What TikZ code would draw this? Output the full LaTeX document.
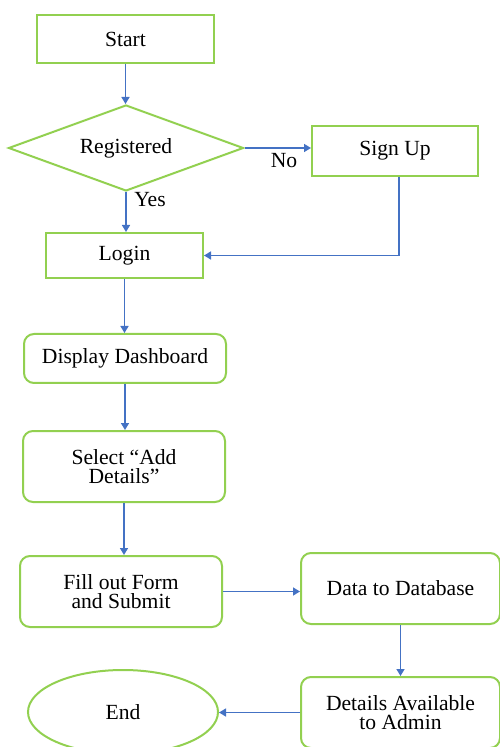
\documentclass[tikz,border=0pt]{standalone}
\usepackage{fontspec}
\setmainfont{Liberation Serif}
\usetikzlibrary{shapes.geometric,arrows.meta}

\definecolor{boxgreen}{RGB}{146,208,80}
\definecolor{flowblue}{RGB}{68,114,196}

\begin{document}
\begin{tikzpicture}[x=0.5pt,y=-0.5pt,
  every node/.style={font=\fontsize{10.8}{9.7}\selectfont, text=black},
  plainbox/.style={draw=boxgreen, line width=1pt, inner sep=2pt, align=center},
  roundbox/.style={plainbox, rounded corners=5pt},
  flow/.style={draw=flowblue, line width=0.75pt, -{Triangle[width=4pt,length=3.5pt]}}]
  \useasboundingbox (0,0) rectangle (499,747);

  % Boxes
  \node[plainbox, minimum width=88.5pt, minimum height=24pt] (start) at (125.5,39) {Start};
  \node[diamond, draw=boxgreen, line width=1pt, inner sep=0pt, shape aspect=2.7,
        minimum width=117.5pt, minimum height=43pt] (reg) at (126,148) {Registered};
  \node[plainbox, minimum width=83pt, minimum height=25pt] (signup) at (395,151) {Sign Up};
  \node[plainbox, minimum width=78.5pt, minimum height=22.5pt] (login) at (124.5,255.5) {Login};
  \node[roundbox, minimum width=101pt, minimum height=24.5pt] (dash) at (125,358.5) {Display Dashboard};
  \node[roundbox, minimum width=101pt, minimum height=35.5pt] (select) at (124,466.5) {Select “Add\\Details”};
  \node[roundbox, minimum width=101pt, minimum height=35.5pt] (form) at (121,591.5) {Fill out Form\\and Submit};
  \node[roundbox, minimum width=99.5pt, minimum height=35.5pt] (db) at (400.5,588.5) {Data to Database};
  \node[roundbox, minimum width=99.5pt, minimum height=35.5pt] (admin) at (400.5,712.5) {Details Available\\to Admin};
  \node[ellipse, draw=boxgreen, line width=1pt, minimum width=95pt, minimum height=42pt] (end) at (123,712) {End};

  % Labels
  \node (nolbl) at (284,161) {No};
  \node (yeslbl) at (150,200) {Yes};

  % Arrows
  \draw[flow] (start.south) -- (start.south |- reg.north);
  \draw[flow] (reg.east) -- (reg.east -| signup.west);
  \draw[flow] (reg.south) -- (reg.south |- login.north);
  \draw[flow] ([xshift=2pt]signup.south) |- (login.east);
  \draw[flow] (login.south) -- (login.south |- dash.north);
  \draw[flow] (dash.south) -- (dash.south |- select.north);
  \draw[flow] (select.south) -- (select.south |- form.north);
  \draw[flow] (form.east) -- (form.east -| db.west);
  \draw[flow] (db.south) -- (db.south |- admin.north);
  \draw[flow] (admin.west) -- (admin.west -| end.east);
\end{tikzpicture}
\end{document}
